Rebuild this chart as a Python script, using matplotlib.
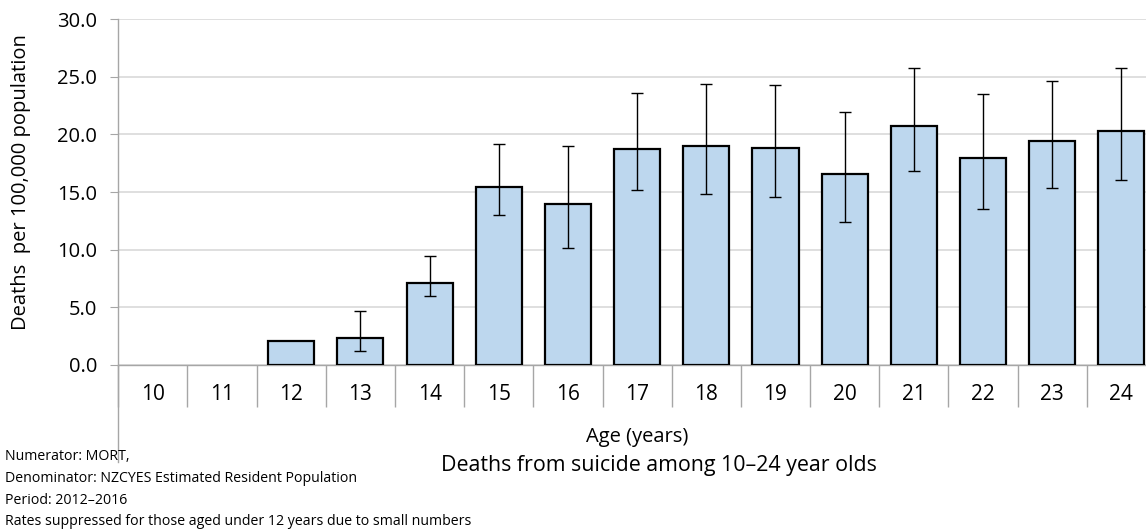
import matplotlib
matplotlib.use("Agg")
import matplotlib.pyplot as plt
import numpy as np

ages = ["10", "11", "12", "13", "14", "15", "16", "17", "18", "19", "20", "21", "22", "23", "24"]
rates = [np.nan, np.nan, 2.03, 2.29, 7.07, 15.41, 13.96, 18.76, 19.00, 18.85, 16.59, 20.73, 17.95, 19.40, 20.30]
ci_lower = [np.nan, np.nan, np.nan, 1.22, 5.94, 13.00, 10.14, 15.17, 14.80, 14.59, 12.40, 16.85, 13.52, 15.35, 16.04]
ci_upper = [np.nan, np.nan, np.nan, 4.64, 9.47, 19.14, 19.02, 23.57, 24.41, 24.27, 21.98, 25.80, 23.51, 24.62, 25.80]
y_ticks = [0, 5, 10, 15, 20, 25, 30]

plt.rcParams['font.family'] = ['Open Sans', 'DejaVu Sans']

W, H = 1146, 529
fig = plt.figure(figsize=(W / 100, H / 100), dpi=100)
left_px, right_px, top_px, bottom_px = 118.3, 1155.9, 19.3, 364.7
ax = fig.add_axes([left_px / W, 1 - bottom_px / H, (right_px - left_px) / W, (bottom_px - top_px) / H])

x = np.arange(len(ages))
r = np.array(rates, dtype=float)
lo = np.array(ci_lower, dtype=float)
hi = np.array(ci_upper, dtype=float)

bmask = ~np.isnan(r)
ax.bar(x[bmask], r[bmask], width=0.667, color="#BDD7EE", edgecolor="black", linewidth=1.6, zorder=3)
mask = ~np.isnan(lo)
ax.errorbar(x[mask], r[mask], yerr=[r[mask] - lo[mask], hi[mask] - r[mask]], fmt="none",
            ecolor="black", elinewidth=1.0, capsize=4.6, capthick=1.0, zorder=4)

ax.set_xlim(-0.5, len(ages) - 0.5)
ax.set_ylim(0, 30)
ax.set_yticks(y_ticks)
ax.set_yticklabels([f"{v:.1f}" for v in y_ticks])
ax.yaxis.grid(True, color="#D9D9D9", linewidth=1.2, zorder=0)
ax.set_axisbelow(True)

for s in ["top", "right"]:
    ax.spines[s].set_visible(False)
ax.spines["left"].set_color("#A6A6A6")
ax.spines["bottom"].set_color("#A6A6A6")
ax.spines["left"].set_linewidth(1.0)
ax.spines["bottom"].set_linewidth(1.0)

ax.tick_params(axis="y", length=5.8, color="#A6A6A6", labelsize=14.5, pad=9.5, labelcolor="black")
ax.set_xticks(x)
ax.set_xticklabels(ages)
ax.tick_params(axis="x", which="major", length=0, labelsize=15, pad=14)
ax.set_xticks(np.arange(len(ages) + 1) - 0.5, minor=True)
ax.tick_params(axis="x", which="minor", length=30, color="#A6A6A6", width=1.0)

# left spine extension below axis
ax.plot([0, 0], [0, -(462 - bottom_px) / (bottom_px - top_px)], transform=ax.transAxes,
        color="#A6A6A6", linewidth=1.0, clip_on=False)

fig.text(21 / W, 1 - 182 / H, "Deaths  per 100,000 population", rotation=90,
         ha="center", va="center", fontsize=14.5)

fig.text(637 / W, 1 - 437 / H, "Age (years)", ha="center", va="center", fontsize=14.5)
fig.text(659 / W, 1 - 466 / H, "Deaths from suicide among 10\u201324 year olds", ha="center", va="center", fontsize=15.4)

notes = ["Numerator: MORT,", "Denominator: NZCYES Estimated Resident Population", "Period: 2012\u20132016",
         "Rates suppressed for those aged under 12 years due to small numbers"]
for i, t in enumerate(notes):
    fig.text(5 / W, 1 - (456.7 + i * 21.7) / H, t, ha="left", va="center", fontsize=10.15)

fig.savefig("out.png", dpi=100)
